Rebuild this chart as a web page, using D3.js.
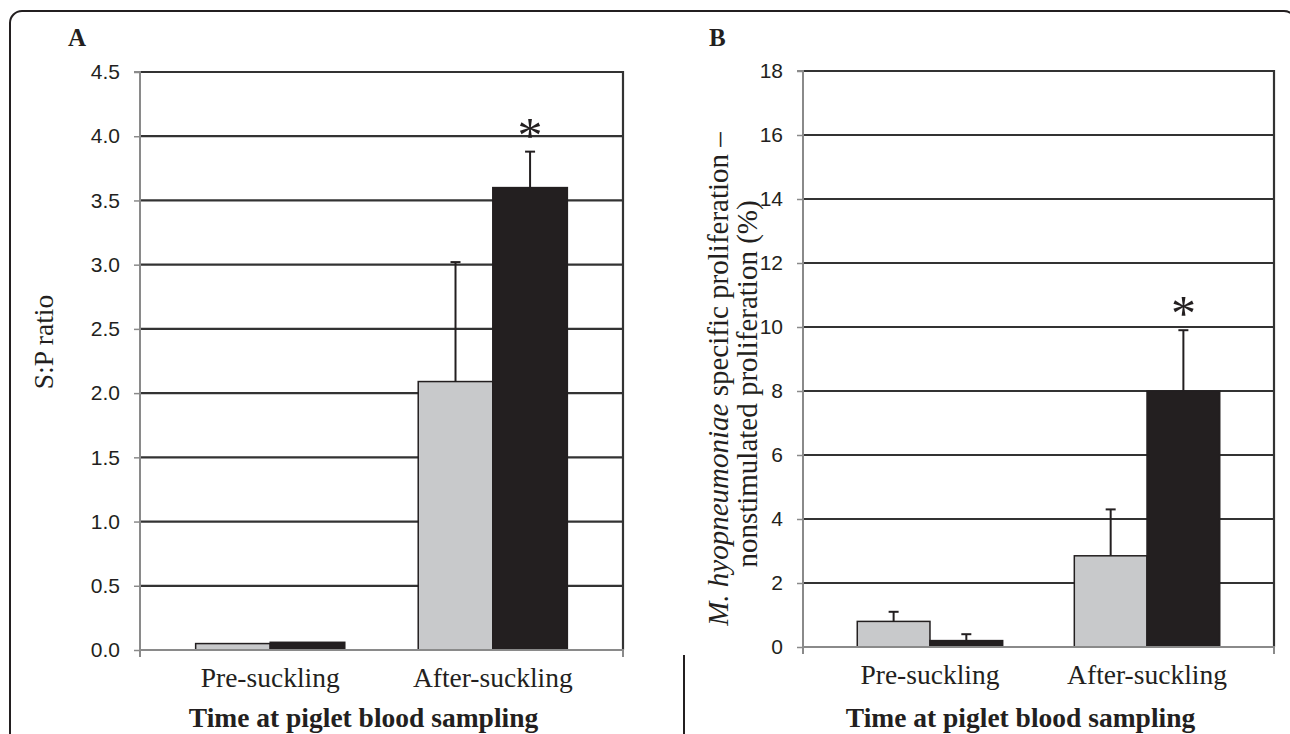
<!DOCTYPE html>
<html>
<head>
<meta charset="utf-8">
<script src="https://cdn.jsdelivr.net/npm/d3@7"></script>
<style>
  html, body { margin: 0; padding: 0; background: #fff; }
  svg { display: block; }
</style>
</head>
<body>
<svg id="chart" width="1290" height="734"></svg>
<script>
// ---- Data ----
const categories = ["Pre-suckling", "After-suckling"];

// Panel A: S:P ratio
const spRatioGray = [0.05, 2.09];
const spRatioGrayErr = [0, 0.93];
const spRatioBlack = [0.06, 3.60];
const spRatioBlackErr = [0, 0.28];
const spRatioTicks = [0, 0.5, 1.0, 1.5, 2.0, 2.5, 3.0, 3.5, 4.0, 4.5];
const spRatioSignif = [false, true];

// Panel B: specific proliferation - nonstimulated proliferation (%)
const prolifGray = [0.8, 2.85];
const prolifGrayErr = [0.3, 1.45];
const prolifBlack = [0.2, 8.0];
const prolifBlackErr = [0.2, 1.9];
const prolifTicks = [0, 2, 4, 6, 8, 10, 12, 14, 16, 18];
const prolifSignif = [false, true];

const xTitle = "Time at piglet blood sampling";

// ---- Drawing ----
const svg = d3.select("#chart");
const serif = "'Liberation Serif', 'Times New Roman', serif";
const sans = "'Liberation Sans', Arial, sans-serif";
const GRAY = "#c8c9cb", DARK = "#231f20";

// outer frame
svg.append("rect")
  .attr("x", 10).attr("y", 11).attr("width", 1286).attr("height", 800)
  .attr("rx", 12).attr("ry", 12)
  .attr("fill", "none").attr("stroke", DARK).attr("stroke-width", 2);

function drawPanel(cfg) {
  const g = svg.append("g");
  const x = d3.scaleBand().domain(categories)
    .range([cfg.left, cfg.right]).paddingInner(0.33).paddingOuter(0.25);
  const xs = d3.scaleBand().domain(["gray", "black"]).range([0, x.bandwidth()]);
  const y = d3.scaleLinear().domain([0, cfg.max]).range([cfg.bottom, cfg.top]);

  // gridlines
  g.append("g").selectAll("line").data(cfg.ticks.filter(t => t > 0)).join("line")
    .attr("x1", cfg.left).attr("x2", cfg.right)
    .attr("y1", d => y(d)).attr("y2", d => y(d))
    .attr("stroke", "#333").attr("stroke-width", 2.2);

  // right border
  g.append("line")
    .attr("x1", cfg.right).attr("x2", cfg.right)
    .attr("y1", cfg.top - 1).attr("y2", cfg.bottom)
    .attr("stroke", "#333").attr("stroke-width", 2.2);

  // y axis
  const yAxis = d3.axisLeft(y).tickValues(cfg.ticks).tickSize(6).tickPadding(14)
    .tickFormat(cfg.fmt);
  const ya = g.append("g").attr("transform", `translate(${cfg.left},0)`).call(yAxis);
  ya.select(".domain").attr("stroke", "#8a8a8a").attr("stroke-width", 2)
    .attr("d", `M-6,${cfg.top}H0V${cfg.bottom}`);
  ya.selectAll(".tick line").attr("stroke", "#8a8a8a").attr("stroke-width", 1.5);
  ya.selectAll(".tick text").attr("font-family", sans).attr("font-size", 21)
    .attr("fill", "#231f20");

  // bars
  const series = [
    { key: "gray", vals: cfg.gray, err: cfg.grayErr, fill: GRAY, stroke: DARK },
    { key: "black", vals: cfg.black, err: cfg.blackErr, fill: DARK, stroke: DARK }
  ];
  series.forEach(s => {
    g.append("g").selectAll("rect").data(categories).join("rect")
      .attr("x", (c) => x(c) + xs(s.key))
      .attr("width", xs.bandwidth())
      .attr("y", (c, i) => y(s.vals[i]))
      .attr("height", (c, i) => cfg.bottom - y(s.vals[i]))
      .attr("fill", s.fill).attr("stroke", s.stroke).attr("stroke-width", 1.5);
  });

  // x axis
  g.append("path")
    .attr("d", `M${cfg.left},${cfg.bottom + 7}V${cfg.bottom}H${cfg.right}V${cfg.bottom + 7}`)
    .attr("fill", "none").attr("stroke", "#8a8a8a").attr("stroke-width", 2);

  // error bars
  series.forEach(s => {
    const eg = g.append("g").selectAll("g").data(categories.filter((c, i) => s.err[i] > 0)).join("g");
    eg.append("line")
      .attr("x1", c => x(c) + xs(s.key) + xs.bandwidth() / 2)
      .attr("x2", c => x(c) + xs(s.key) + xs.bandwidth() / 2)
      .attr("y1", c => y(s.vals[categories.indexOf(c)]))
      .attr("y2", c => { const i = categories.indexOf(c); return y(s.vals[i] + s.err[i]); })
      .attr("stroke", DARK).attr("stroke-width", 2);
    eg.append("line")
      .attr("x1", c => x(c) + xs(s.key) + xs.bandwidth() / 2 - 5)
      .attr("x2", c => x(c) + xs(s.key) + xs.bandwidth() / 2 + 5)
      .attr("y1", c => { const i = categories.indexOf(c); return y(s.vals[i] + s.err[i]); })
      .attr("y2", c => { const i = categories.indexOf(c); return y(s.vals[i] + s.err[i]); })
      .attr("stroke", DARK).attr("stroke-width", 2);
  });

  // significance asterisks above black bars
  g.append("g").selectAll("text").data(categories.filter((c, i) => cfg.signif[i])).join("text")
    .attr("x", c => x(c) + xs("black") + xs.bandwidth() / 2)
    .attr("y", c => { const i = categories.indexOf(c); return y(cfg.black[i] + cfg.blackErr[i]); })
    .attr("text-anchor", "middle")
    .attr("font-family", serif).attr("font-size", 50).attr("fill", DARK)
    .text("*");

  // category labels
  g.append("g").selectAll("text").data(categories).join("text")
    .attr("x", c => x(c) + x.bandwidth() / 2)
    .attr("y", cfg.bottom + 37)
    .attr("text-anchor", "middle")
    .attr("font-family", serif).attr("font-size", 27.5).attr("fill", DARK)
    .text(c => c);

  // x title
  g.append("text")
    .attr("x", (cfg.left + cfg.right) / 2 - 18)
    .attr("y", 727)
    .attr("text-anchor", "middle")
    .attr("font-family", serif).attr("font-size", 27.5).attr("font-weight", "bold")
    .attr("fill", DARK)
    .text(xTitle);

  // panel letter
  g.append("text")
    .attr("x", cfg.letterX).attr("y", 46)
    .attr("font-family", serif).attr("font-size", 25).attr("font-weight", "bold")
    .attr("fill", DARK)
    .text(cfg.letter);

  return g;
}

const gA = drawPanel({
  left: 140, right: 623, top: 72, bottom: 650, max: 4.5,
  ticks: spRatioTicks, fmt: d3.format(".1f"),
  gray: spRatioGray, grayErr: spRatioGrayErr,
  black: spRatioBlack, blackErr: spRatioBlackErr,
  signif: spRatioSignif, letter: "A", letterX: 68
});

const gB = drawPanel({
  left: 803, right: 1274, top: 71, bottom: 647, max: 18,
  ticks: prolifTicks, fmt: d3.format("d"),
  gray: prolifGray, grayErr: prolifGrayErr,
  black: prolifBlack, blackErr: prolifBlackErr,
  signif: prolifSignif, letter: "B", letterX: 709
});

// y titles
svg.append("text")
  .attr("transform", "translate(53,342) rotate(-90)")
  .attr("text-anchor", "middle")
  .attr("font-family", serif).attr("font-size", 27.5).attr("fill", DARK)
  .text("S:P ratio");

const t1 = svg.append("text")
  .attr("transform", "translate(728,379) rotate(-90)")
  .attr("text-anchor", "middle")
  .attr("font-family", serif).attr("font-size", 29).attr("fill", DARK);
t1.append("tspan").attr("font-style", "italic").text("M. hyopneumoniae");
t1.append("tspan").text(" specific proliferation \u2013");

svg.append("text")
  .attr("transform", "translate(757,384) rotate(-90)")
  .attr("text-anchor", "middle")
  .attr("font-family", serif).attr("font-size", 29).attr("fill", DARK)
  .text("nonstimulated proliferation (%)");

// separator line at bottom between panels
svg.append("line")
  .attr("x1", 684).attr("x2", 684).attr("y1", 655).attr("y2", 734)
  .attr("stroke", DARK).attr("stroke-width", 2);
</script>
</body>
</html>
